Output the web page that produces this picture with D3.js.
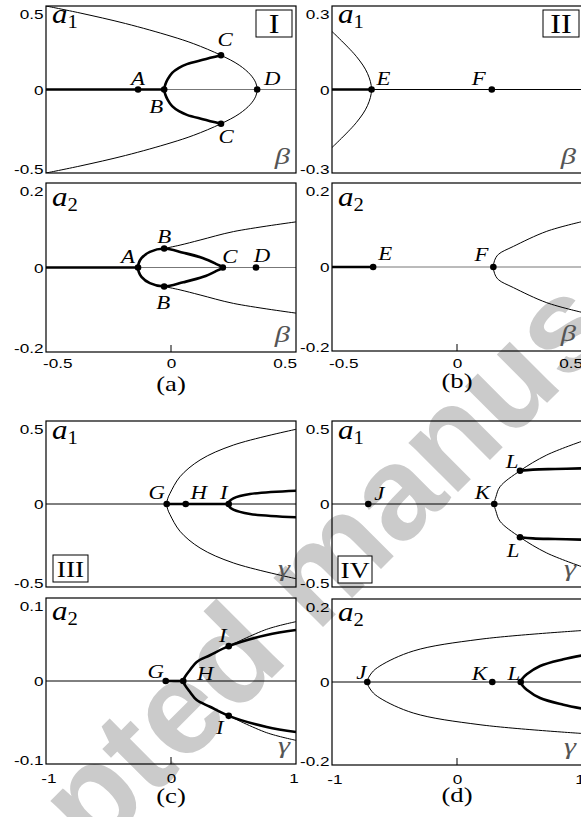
<!DOCTYPE html>
<html lang="en">
<head>
  <meta charset="UTF-8">
  <title>Bifurcation diagrams</title>
  <script src="https://d3js.org/d3.v7.min.js"></script>
  <style>
    body { margin: 0; background: #fff; }
    svg { display: block; }
  </style>
</head>
<body>
  <svg id="chart"></svg>

  <script>
    // x ranges and ticks
    const betaDomain = [-0.55, 0.55];
    const gammaDomain = [-1.02, 1.02];
    const betaTicks = [-0.5, 0, 0.5];
    const betaTickLabels = ["-0.5", "0", "0.5"];
    const gammaTicks = [-1, 0, 1];
    const gammaTickLabels = ["-1", "0", "1"];

    // panel I, a1 (branches listed from the a=0 tip outwards, upper half)
    const Ia1Ticks = [-0.5, 0, 0.5];
    const Ia1TickLabels = ["-0.5", "0", "0.5"];
    const Ia1Thin = [[0.379, 0], [0.373, 0.04], [0.35, 0.088], [0.3, 0.146], [0.22, 0.205], [0.1, 0.274], [0, 0.319], [-0.2, 0.395], [-0.4, 0.458], [-0.55, 0.5]];
    const Ia1Thick = [[-0.03, 0], [-0.025, 0.03], [-0.015, 0.06], [0.005, 0.1], [0.035, 0.13], [0.07, 0.152], [0.14, 0.178], [0.22, 0.205]];
    const Ia1AxisThick = [-0.55, -0.03];
    const Ia1Points = [["A", -0.145, 0], ["B", -0.03, 0], ["C", 0.22, 0.205], ["C", 0.22, -0.205], ["D", 0.379, 0]];

    // panel I, a2
    const Ia2Ticks = [-0.2, 0, 0.2];
    const Ia2TickLabels = ["-0.2", "0", "0.2"];
    const Ia2Loop = [[-0.145, 0], [-0.142, 0.01], [-0.13, 0.022], [-0.093, 0.037], [-0.03, 0.045], [0.054, 0.035], [0.142, 0.022], [0.2, 0.008], [0.228, 0]];
    const Ia2Thin = [[-0.03, 0.045], [0.04, 0.053], [0.128, 0.065], [0.275, 0.085], [0.55, 0.108]];
    const Ia2AxisThick = [-0.55, -0.145];
    const Ia2Points = [["A", -0.145, 0], ["B", -0.03, 0.045], ["B", -0.03, -0.045], ["C", 0.228, 0], ["D", 0.374, 0]];

    // panel II, a1
    const IIa1Ticks = [-0.3, 0, 0.3];
    const IIa1TickLabels = ["-0.3", "0", "0.3"];
    const IIa1Thin = [[-0.376, 0], [-0.394, 0.058], [-0.442, 0.118], [-0.552, 0.21]];
    const IIa1AxisThick = [-0.55, -0.376];
    const IIa1Points = [["E", -0.376, 0], ["F", 0.153, 0]];

    // panel II, a2
    const IIa2Ticks = [-0.2, 0, 0.2];
    const IIa2TickLabels = ["-0.2", "0", "0.2"];
    const IIa2Thin = [[0.16, 0], [0.165, 0.015], [0.182, 0.03], [0.248, 0.049], [0.395, 0.085], [0.55, 0.108]];
    const IIa2AxisThick = [-0.55, -0.369];
    const IIa2Points = [["E", -0.369, 0], ["F", 0.16, 0]];

    // panel III, a1
    const IIIa1Ticks = [-0.5, 0, 0.5];
    const IIIa1TickLabels = ["-0.5", "0", "0.5"];
    const IIIa1Thin = [[-0.035, 0], [-0.027, 0.032], [-0.008, 0.064], [0.073, 0.164], [0.237, 0.265], [0.509, 0.355], [1.02, 0.45]];
    const IIIa1Thick = [[0.471, 0], [0.476, 0.015], [0.509, 0.034], [0.645, 0.06], [1.02, 0.08]];
    const IIIa1AxisThick = [-0.035, 0.471];
    const IIIa1Points = [["G", -0.035, 0], ["H", 0.12, 0], ["I", 0.471, 0]];

    // panel III, a2
    const IIIa2Ticks = [-0.1, 0, 0.1];
    const IIIa2TickLabels = ["-0.1", "0", "0.1"];
    const IIIa2Thick = [[0.1, 0], [0.114, 0.005], [0.155, 0.0133], [0.21, 0.023], [0.318, 0.031], [0.471, 0.042], [0.781, 0.0554], [1.02, 0.0614]];
    const IIIa2Thin = [[0.471, 0.042], [0.781, 0.0623], [1.02, 0.0715]];
    const IIIa2AxisThick = [-0.043, 0.1];
    const IIIa2Points = [["G", -0.043, 0], ["H", 0.1, 0], ["I", 0.471, 0.042], ["I", 0.471, -0.042]];

    // panel IV, a1
    const IVa1Ticks = [-0.5, 0, 0.5];
    const IVa1TickLabels = ["-0.5", "0", "0.5"];
    const IVa1Thin = [[0.304, 0], [0.318, 0.044], [0.351, 0.104], [0.514, 0.2], [0.732, 0.295], [1.02, 0.378]];
    const IVa1Thick = [[0.514, 0.2], [0.62, 0.207], [0.8, 0.211], [1.02, 0.215]];
    const IVa1Points = [["J", -0.724, 0], ["K", 0.304, 0], ["L", 0.514, 0.2], ["L", 0.514, -0.2]];

    // panel IV, a2
    const IVa2Ticks = [-0.2, 0, 0.2];
    const IVa2TickLabels = ["-0.2", "0", "0.2"];
    const IVa2Thin = [[-0.732, 0], [-0.696, 0.022], [-0.629, 0.0386], [-0.357, 0.0747], [0.188, 0.103], [1.02, 0.124]];
    const IVa2Thick = [[0.52, 0], [0.536, 0.009], [0.569, 0.0185], [0.678, 0.0386], [0.868, 0.0547], [1.02, 0.064]];
    const IVa2Points = [["J", -0.732, 0], ["K", 0.288, 0], ["L", 0.52, 0]];

    const width = 581, height = 817;
    const SERIF = "'Liberation Serif', 'Times New Roman', Times, serif";
    const SANS = "'Liberation Sans', Arial, Helvetica, sans-serif";
    const SX = 1.27; // the original figure's lettering is stretched sideways

    const svg = d3.select("#chart").attr("width", width).attr("height", height);

    // watermark behind everything
    svg.append("text")
      .attr("transform", "translate(345,605) rotate(-45)")
      .attr("text-anchor", "middle")
      .style("font-family", SANS)
      .style("font-weight", "bold")
      .style("font-size", "132px")
      .style("fill", "#cbcbcb")
      .text("Accepted manuscript");

    // helpers for symmetric branches
    const mirrorTip = half => [...half.slice().reverse(), ...half.slice(1).map(([x, y]) => [x, -y])];
    const flip = half => half.map(([x, y]) => [x, -y]);
    const loop = upper => [...upper, ...upper.slice(1, -1).reverse().map(([x, y]) => [x, -y])];

    function serifText(sel, px, py, sx = SX) {
      return sel.append("text")
        .attr("transform", `translate(${px},${py}) scale(${sx},1)`)
        .style("font-family", SERIF).style("fill", "#000");
    }

    let clipId = 0;
    function drawPanel(p) {
      const x = d3.scaleLinear().domain(p.xDomain).range([p.left, p.right]);
      const y = d3.scaleLinear().domain(p.yDomain).range([p.bottom, p.top]);
      const g = svg.append("g");

      const id = "clip" + (clipId++);
      g.append("clipPath").attr("id", id)
        .append("rect")
        .attr("x", p.left).attr("y", p.top)
        .attr("width", p.right - p.left).attr("height", p.bottom - p.top);

      const plot = g.append("g").attr("clip-path", `url(#${id})`);
      const line = d3.line().x(d => x(d[0])).y(d => y(d[1])).curve(d3.curveCatmullRom.alpha(0.5));
      const closed = d3.line().x(d => x(d[0])).y(d => y(d[1])).curve(d3.curveCatmullRomClosed.alpha(0.5));

      // zero line
      plot.append("line")
        .attr("x1", p.left).attr("x2", p.right)
        .attr("y1", y(0)).attr("y2", y(0))
        .style("stroke", p.zeroColor || "#000")
        .style("stroke-width", 1);

      if (p.axisThick) {
        plot.append("line")
          .attr("x1", x(p.axisThick[0])).attr("x2", x(p.axisThick[1]))
          .attr("y1", y(0)).attr("y2", y(0))
          .style("stroke", "#000").style("stroke-width", 2.6);
      }

      (p.curves || []).forEach(c => {
        plot.append("path")
          .attr("d", c.closed ? closed(c.data) : line(c.data))
          .style("fill", "none")
          .style("stroke", "#000")
          .style("stroke-width", c.thick ? 2.6 : 1);
      });

      // points + labels
      p.points.forEach((pt, i) => {
        g.append("circle")
          .attr("cx", x(pt[1])).attr("cy", y(pt[2])).attr("r", 3.3)
          .style("fill", "#000");
        const off = p.labelOffsets[i];
        serifText(g, x(pt[1]) + off[0], y(pt[2]) + off[1], 1.2)
          .attr("text-anchor", "middle")
          .style("font-style", "italic").style("font-size", "19px")
          .text(pt[0]);
      });

      // frame
      g.append("rect")
        .attr("x", p.left).attr("y", p.top)
        .attr("width", p.right - p.left).attr("height", p.bottom - p.top)
        .style("fill", "none").style("stroke", "#000").style("stroke-width", 1.2);

      // y axis
      const yAxis = g.append("g")
        .attr("transform", `translate(${p.left},0)`)
        .call(d3.axisLeft(y).tickValues(p.yTicks).tickSize(0).tickPadding(2)
          .tickFormat((d, i) => p.yTickLabels[i]));
      yAxis.select(".domain").remove();
      yAxis.selectAll(".tick text")
        .attr("transform", `scale(${SX},1)`)
        .style("font-family", SANS).style("font-size", "13.5px").style("fill", "#000")
        .attr("dy", (d, i) => i === 0 ? "0" : (i === p.yTicks.length - 1 ? "12" : "0.35em"));

      // x axis (bottom panels only)
      if (p.xTicks) {
        const xAxis = g.append("g")
          .attr("transform", `translate(0,${p.bottom})`)
          .call(d3.axisBottom(x).tickValues(p.xTicks).tickSize(0).tickPadding(0)
            .tickFormat((d, i) => p.xTickLabels[i]));
        xAxis.select(".domain").remove();
        xAxis.selectAll(".tick text")
          .attr("transform", `scale(${SX},1)`)
          .style("font-family", SANS).style("font-size", "13.5px").style("fill", "#000")
          .attr("dy", p.xLabelDy + "px").attr("y", 0);
        g.append("line")
          .attr("x1", x(0)).attr("x2", x(0))
          .attr("y1", p.bottom).attr("y2", p.bottom - 7)
          .style("stroke", "#000").style("stroke-width", 1);
      }

      // variable label a1 / a2
      const vl = serifText(g, p.left + 6, p.top + p.varDy, 1.15)
        .style("font-size", "27px");
      vl.append("tspan").style("font-style", "italic").text("a");
      vl.append("tspan").attr("dy", 5).style("font-size", "18px").text(p.varSub);

      // parameter label beta / gamma
      serifText(g, p.right - 6, p.bottom - p.parDy)
        .attr("text-anchor", "end")
        .style("font-style", "italic").style("font-size", "24px")
        .style("fill", "#555")
        .text(p.par);

      if (p.roman) {
        const r = p.roman;
        g.append("rect")
          .attr("x", r.x).attr("y", r.y).attr("width", r.w).attr("height", 27)
          .style("fill", "#fff").style("stroke", "#000").style("stroke-width", 1);
        serifText(g, r.x + r.w / 2, r.y + r.base, 1.15)
          .attr("text-anchor", "middle")
          .style("font-size", r.size + "px")
          .text(r.text);
      }

      if (p.caption) {
        serifText(g, x(0), p.captionY)
          .attr("text-anchor", "middle")
          .style("font-size", "21px")
          .text(p.caption);
      }
    }

    const L = [46, 296], R = [332, 582];

    drawPanel({
      left: L[0], right: L[1], top: 6, bottom: 173,
      xDomain: betaDomain, yDomain: [-0.5, 0.5],
      yTicks: Ia1Ticks, yTickLabels: Ia1TickLabels,
      zeroColor: "#777", axisThick: Ia1AxisThick,
      curves: [{ data: mirrorTip(Ia1Thin) }, { data: mirrorTip(Ia1Thick), thick: true }],
      points: Ia1Points, labelOffsets: [[0, -5], [-8, 23], [4, -9], [5, 19], [15, -5]],
      varSub: "1", varDy: 17, par: "β", parDy: 9,
      roman: { x: 256, y: 10, w: 36, text: "I", size: 28, base: 23 }
    });
    drawPanel({
      left: L[0], right: L[1], top: 183, bottom: 352,
      xDomain: betaDomain, yDomain: [-0.2, 0.2],
      yTicks: Ia2Ticks, yTickLabels: Ia2TickLabels,
      xTicks: betaTicks, xTickLabels: betaTickLabels, xLabelDy: 16,
      zeroColor: "#777", axisThick: Ia2AxisThick,
      curves: [{ data: loop(Ia2Loop), thick: true, closed: true }, { data: Ia2Thin }, { data: flip(Ia2Thin) }],
      points: Ia2Points, labelOffsets: [[-10, -5], [0, -5], [-1, 22], [7, -5], [6, -6]],
      varSub: "2", varDy: 23, par: "β", parDy: 10,
      caption: "(a)", captionY: 391
    });
    drawPanel({
      left: R[0], right: R[1], top: 6, bottom: 173,
      xDomain: betaDomain, yDomain: [-0.3, 0.3],
      yTicks: IIa1Ticks, yTickLabels: IIa1TickLabels,
      axisThick: IIa1AxisThick,
      curves: [{ data: mirrorTip(IIa1Thin) }],
      points: IIa1Points, labelOffsets: [[12, -5], [-13, -5]],
      varSub: "1", varDy: 17, par: "β", parDy: 9,
      roman: { x: 543, y: 10, w: 36, text: "II", size: 28, base: 23 }
    });
    drawPanel({
      left: R[0], right: R[1], top: 183, bottom: 351,
      xDomain: betaDomain, yDomain: [-0.2, 0.2],
      yTicks: IIa2Ticks, yTickLabels: IIa2TickLabels,
      xTicks: betaTicks, xTickLabels: betaTickLabels, xLabelDy: 17,
      zeroColor: "#777", axisThick: IIa2AxisThick,
      curves: [{ data: mirrorTip(IIa2Thin) }],
      points: IIa2Points, labelOffsets: [[12, -7], [-12, -6]],
      varSub: "2", varDy: 23, par: "β", parDy: 10,
      caption: "(b)", captionY: 388
    });
    drawPanel({
      left: L[0], right: L[1], top: 421, bottom: 587,
      xDomain: gammaDomain, yDomain: [-0.5, 0.5],
      yTicks: IIIa1Ticks, yTickLabels: IIIa1TickLabels,
      axisThick: IIIa1AxisThick,
      curves: [{ data: mirrorTip(IIIa1Thin) }, { data: mirrorTip(IIIa1Thick), thick: true }],
      points: IIIa1Points, labelOffsets: [[-10, -5], [13, -5], [-5, -5]],
      varSub: "1", varDy: 18, par: "γ", parDy: 11,
      roman: { x: 53, y: 555, w: 35, text: "III", size: 24, base: 22 }
    });
    drawPanel({
      left: L[0], right: L[1], top: 598, bottom: 764,
      xDomain: gammaDomain, yDomain: [-0.1, 0.1],
      yTicks: IIIa2Ticks, yTickLabels: IIIa2TickLabels,
      xTicks: gammaTicks, xTickLabels: gammaTickLabels, xLabelDy: 19,
      axisThick: IIIa2AxisThick,
      curves: [{ data: mirrorTip(IIIa2Thick), thick: true }, { data: IIIa2Thin }, { data: flip(IIIa2Thin) }],
      points: IIIa2Points, labelOffsets: [[-10, -3], [22, -1], [-6, -4], [-9, 18]],
      varSub: "2", varDy: 22, par: "γ", parDy: 11,
      caption: "(c)", captionY: 803
    });
    drawPanel({
      left: R[0], right: R[1], top: 421, bottom: 587,
      xDomain: gammaDomain, yDomain: [-0.5, 0.5],
      yTicks: IVa1Ticks, yTickLabels: IVa1TickLabels,
      curves: [{ data: mirrorTip(IVa1Thin) }, { data: IVa1Thick, thick: true }, { data: flip(IVa1Thick), thick: true }],
      points: IVa1Points, labelOffsets: [[11, -4], [-12, -5], [-8, -3], [-7, 20]],
      varSub: "1", varDy: 18, par: "γ", parDy: 11,
      roman: { x: 338, y: 556, w: 34, text: "IV", size: 24, base: 22 }
    });
    drawPanel({
      left: R[0], right: R[1], top: 599, bottom: 765,
      xDomain: gammaDomain, yDomain: [-0.2, 0.2],
      yTicks: IVa2Ticks, yTickLabels: IVa2TickLabels,
      xTicks: gammaTicks, xTickLabels: gammaTickLabels, xLabelDy: 19,
      curves: [{ data: mirrorTip(IVa2Thin) }, { data: mirrorTip(IVa2Thick), thick: true }],
      points: IVa2Points, labelOffsets: [[-6, -3], [-13, -2], [-7, -2]],
      varSub: "2", varDy: 22, par: "γ", parDy: 11,
      caption: "(d)", captionY: 802
    });
  </script>
</body>
</html>
